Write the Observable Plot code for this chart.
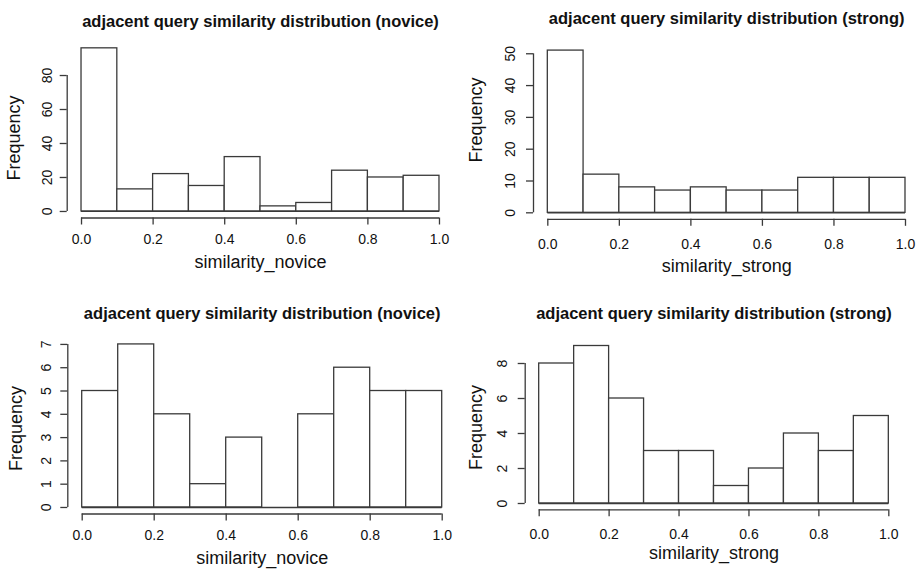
<!DOCTYPE html>
<html>
<head>
<meta charset="utf-8">
<script src="https://cdn.jsdelivr.net/npm/d3@7"></script>
<script src="https://cdn.jsdelivr.net/npm/@observablehq/plot@0.6"></script>
<style>
  html, body { margin: 0; padding: 0; background: white; }
  #wrap { position: relative; width: 920px; height: 575px; overflow: hidden; background: white; }
  .panel { position: absolute; }
</style>
</head>
<body>
<div id="wrap"></div>
<script>
// ---- data ----
const binEdges = [0.0, 0.1, 0.2, 0.3, 0.4, 0.5, 0.6, 0.7, 0.8, 0.9, 1.0];
const noviceTopCounts = [96, 13, 22, 15, 32, 3, 5, 24, 20, 21];
const strongTopCounts = [51, 12, 8, 7, 8, 7, 7, 11, 11, 11];
const noviceBottomCounts = [5, 7, 4, 1, 3, 0, 4, 6, 5, 5];
const strongBottomCounts = [8, 9, 6, 3, 3, 1, 2, 4, 3, 5];
const xTicks = [0.0, 0.2, 0.4, 0.6, 0.8, 1.0];
const yTicksNoviceTop = [0, 20, 40, 60, 80];
const yTicksStrongTop = [0, 10, 20, 30, 40, 50];
const yTicksNoviceBottom = [0, 1, 2, 3, 4, 5, 6, 7];
const yTicksStrongBottom = [0, 2, 4, 6, 8];
const titleNovice = "adjacent query similarity distribution (novice)";
const titleStrong = "adjacent query similarity distribution (strong)";
const xLabelNovice = "similarity_novice";
const xLabelStrong = "similarity_strong";
const yLabel = "Frequency";

// ---- layout ----
const panels = [
  {counts: noviceTopCounts, yTicks: yTicksNoviceTop, title: titleNovice, xLabel: xLabelNovice,
   left: 0, top: 0, w: 460, h: 290, mL: 66.7, mR: 6.7, mT: 41.3, mB: 72.5,
   xPad: 9, yPad: 8, titleY: 14.5, xLabY: 267, fX: 19.6, fY: 137.5},
  {counts: strongTopCounts, yTicks: yTicksStrongTop, title: titleStrong, xLabel: xLabelStrong,
   left: 460, top: 0, w: 460, h: 290, mL: 73, mR: 0.7, mT: 43.6, mB: 71.2,
   xPad: 13, yPad: 12, titleY: 11.5, xLabY: 271, fX: 21.2, fY: 119.5},
  {counts: noviceBottomCounts, yTicks: yTicksNoviceBottom, title: titleNovice, xLabel: xLabelNovice,
   left: 0, top: 290, w: 460, h: 285, mL: 67.3, mR: 3.9, mT: 47.4, mB: 61.5,
   xPad: 9, yPad: 10, titleY: 17, xLabY: 273, fX: 21.2, fY: 138},
  {counts: strongBottomCounts, yTicks: yTicksStrongBottom, title: titleStrong, xLabel: xLabelStrong,
   left: 460, top: 290, w: 460, h: 285, mL: 64.7, mR: 17.7, mT: 49.2, mB: 65.7,
   xPad: 12, yPad: 11, titleY: 17, xLabY: 268, fX: 21.2, fY: 137}
];

const ink = "#3a3a3a";
const wrap = document.getElementById("wrap");

for (const p of panels) {
  const bins = p.counts.map((c, i) => ({x1: binEdges[i], x2: binEdges[i + 1], count: c}));
  const ymax = d3.max(p.counts);
  const x0 = binEdges[0], x1 = binEdges[binEdges.length - 1];
  const xPadD = 0.04 * (x1 - x0);
  const xDomain = [x0 - xPadD, x1 + xPadD];
  const yDomain = [-0.04 * ymax, 1.04 * ymax];

  const chart = Plot.plot({
    width: p.w,
    height: p.h,
    marginLeft: p.mL,
    marginRight: p.mR,
    marginTop: p.mT,
    marginBottom: p.mB,
    x: {domain: xDomain},
    y: {domain: yDomain},
    style: {fontFamily: "'Liberation Sans', Arial, sans-serif", fontSize: "14px", color: "#111", background: "transparent", overflow: "visible"},
    marks: [
      Plot.rectY(bins, {x1: "x1", x2: "x2", y1: 0, y2: "count", fill: "white", stroke: ink, strokeWidth: 1.3}),
      Plot.ruleY([0], {x1: x0, x2: x1, stroke: ink, strokeWidth: 1.3}),
      Plot.ruleX([xDomain[0]], {y1: p.yTicks[0], y2: p.yTicks[p.yTicks.length - 1], stroke: ink, strokeWidth: 1.3}),
      Plot.ruleY([yDomain[0]], {x1: xTicks[0], x2: xTicks[xTicks.length - 1], stroke: ink, strokeWidth: 1.3}),
      Plot.axisX({ticks: xTicks, tickSize: 7, tickPadding: p.xPad, tickFormat: d3.format(".1f"), label: null, stroke: ink, strokeWidth: 1.3}),
      Plot.axisY({ticks: p.yTicks, tickSize: 7, tickPadding: p.yPad, tickRotate: -90, label: null, stroke: ink, strokeWidth: 1.3}),
      Plot.text([p.title], {frameAnchor: "top", dy: p.titleY - p.mT, text: d => d, fontSize: 16.5, fontWeight: "bold", fill: "#111"}),
      Plot.text([p.xLabel], {frameAnchor: "bottom", dy: p.xLabY - (p.h - p.mB), text: d => d, fontSize: 18, fill: "#111"}),
      Plot.text([yLabel], {frameAnchor: "top-left", dx: p.fX - p.mL, dy: p.fY - p.mT, text: d => d, rotate: -90, textAnchor: "middle", lineAnchor: "bottom", fontSize: 18, fill: "#111"})
    ]
  });
  const div = document.createElement("div");
  div.className = "panel";
  div.style.left = p.left + "px";
  div.style.top = p.top + "px";
  div.appendChild(chart);
  wrap.appendChild(div);
}
</script>
</body>
</html>
